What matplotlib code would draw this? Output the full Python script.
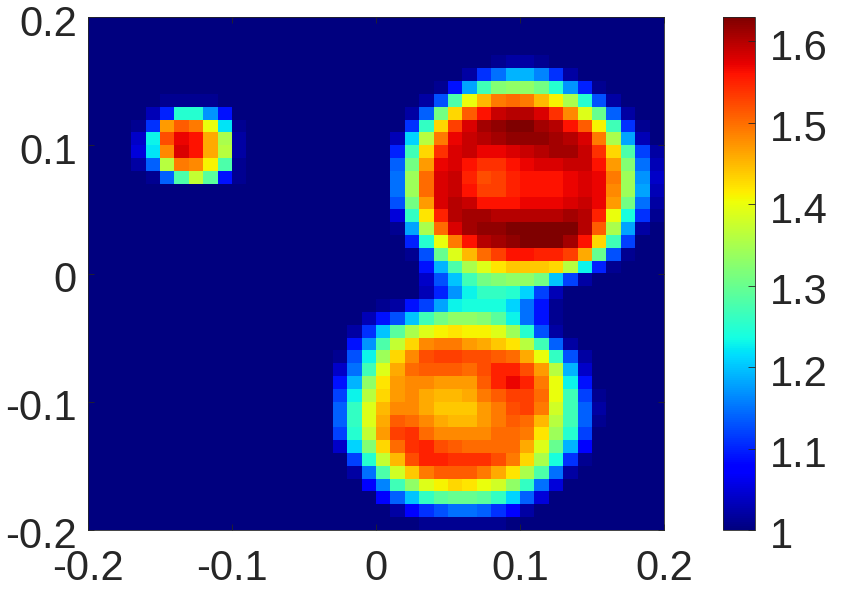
import numpy as np
import matplotlib
matplotlib.use("Agg")
import matplotlib.pyplot as plt
from matplotlib.transforms import ScaledTranslation

plt.rcParams['font.family'] = ['Liberation Sans', 'DejaVu Sans']

n_cells = 40
base_value = 1.0
v_max = 1.63
x_ticks = [-0.2, -0.1, 0, 0.1, 0.2]
y_ticks = [-0.2, -0.1, 0, 0.1, 0.2]
x_tick_labels = ['-0.2', '-0.1', '0', '0.1', '0.2']
y_tick_labels = ['-0.2', '-0.1', '0', '0.1', '0.2']
cbar_ticks = [1, 1.1, 1.2, 1.3, 1.4, 1.5, 1.6]
cbar_labels = ['1', '1.1', '1.2', '1.3', '1.4', '1.5', '1.6']

# (row from top, first column, excess over 1 in hundredths)
small_spot = [
    (6, 5, [1, 1, 1, 1]),
    (7, 4, [3, 10, 25, 25, 17, 9]),
    (8, 3, [1, 11, 47, 51, 49, 40, 22, 1]),
    (9, 3, [4, 23, 52, 57, 56, 46, 35, 2]),
    (10, 3, [5, 22, 48, 58, 56, 46, 36, 2]),
    (11, 3, [2, 14, 36, 49, 48, 41, 28, 1]),
    (12, 4, [1, 14, 28, 37, 29, 9, 1]),
]
upper_spot = [
    (3, 28, [1, 2, 2, 1]),
    (4, 26, [2, 11, 15, 19, 19, 16, 11, 2]),
    (5, 24, [1, 9, 18, 27, 32, 33, 33, 31, 25, 17, 10, 1]),
    (6, 23, [2, 13, 28, 40, 45, 49, 50, 49, 45, 41, 35, 25, 13, 2]),
    (7, 22, [2, 14, 31, 43, 51, 56, 59, 60, 60, 58, 54, 48, 39, 30, 14, 2]),
    (8, 22, [11, 26, 43, 53, 58, 61, 62, 63, 63, 61, 60, 56, 51, 41, 27, 11, 1]),
    (9, 21, [3, 21, 36, 49, 57, 59, 60, 61, 62, 62, 62, 61, 60, 58, 49, 35, 18, 3]),
    (10, 21, [10, 27, 43, 54, 58, 59, 57, 57, 58, 59, 60, 61, 61, 59, 54, 43, 28, 12, 2]),
    (11, 21, [14, 31, 47, 57, 58, 56, 54, 54, 56, 57, 58, 58, 59, 59, 56, 47, 32, 15, 3]),
    (12, 21, [15, 34, 50, 58, 59, 55, 52, 53, 55, 56, 56, 56, 57, 58, 57, 49, 34, 17, 4]),
    (13, 21, [15, 34, 50, 58, 59, 56, 53, 53, 55, 56, 56, 56, 57, 58, 57, 48, 34, 18, 3]),
    (14, 21, [13, 31, 47, 58, 60, 59, 56, 56, 56, 57, 57, 57, 58, 59, 57, 47, 31, 15, 2]),
    (15, 21, [5, 26, 42, 55, 60, 61, 61, 60, 60, 60, 60, 60, 61, 60, 55, 40, 24, 11, 1]),
    (16, 21, [1, 18, 35, 50, 58, 61, 62, 62, 63, 63, 63, 63, 63, 60, 51, 35, 18, 2]),
    (17, 22, [10, 25, 40, 49, 56, 60, 61, 62, 63, 63, 63, 61, 56, 43, 27, 12]),
    (18, 22, [1, 13, 30, 39, 45, 50, 53, 56, 56, 55, 55, 53, 46, 30, 13, 1]),
    (19, 23, [9, 19, 28, 35, 39, 42, 44, 44, 44, 43, 36, 23, 10, 1]),
    (20, 23, [4, 13, 20, 27, 31, 32, 33, 33, 31, 20, 12, 2]),
    (21, 23, [3, 10, 17, 23, 26, 26, 25, 21, 12, 3]),
]
lower_spot = [
    (22, 20, [1, 2, 9, 12, 18, 23, 24, 24, 24, 21, 15, 9, 1]),
    (23, 19, [3, 9, 13, 20, 27, 31, 33, 33, 32, 29, 23, 15, 9, 1]),
    (24, 18, [2, 11, 20, 29, 35, 39, 41, 42, 41, 41, 39, 34, 25, 13, 2]),
    (25, 18, [9, 17, 28, 37, 43, 48, 49, 49, 47, 46, 44, 42, 36, 27, 14, 2]),
    (26, 17, [1, 13, 23, 34, 43, 48, 52, 53, 53, 52, 52, 51, 50, 46, 40, 26, 13, 2]),
    (27, 17, [4, 15, 27, 39, 46, 50, 51, 51, 51, 50, 52, 55, 55, 52, 47, 36, 19, 4]),
    (28, 17, [9, 19, 33, 42, 47, 48, 48, 47, 47, 47, 51, 55, 57, 55, 49, 40, 23, 9]),
    (29, 17, [12, 23, 36, 43, 47, 48, 46, 45, 45, 46, 49, 51, 53, 53, 50, 40, 27, 12, 1]),
    (30, 17, [14, 26, 39, 45, 48, 48, 46, 44, 44, 44, 47, 49, 52, 53, 49, 38, 27, 14, 2]),
    (31, 17, [14, 26, 39, 46, 51, 50, 48, 46, 45, 45, 47, 49, 51, 50, 45, 36, 27, 14, 1]),
    (32, 17, [12, 25, 37, 47, 53, 54, 50, 48, 48, 48, 48, 50, 50, 49, 42, 34, 25, 12]),
    (33, 17, [4, 21, 32, 43, 50, 54, 55, 52, 51, 50, 50, 50, 50, 46, 39, 30, 19, 8]),
    (34, 18, [12, 25, 37, 45, 52, 55, 55, 54, 54, 54, 52, 49, 43, 35, 24, 11, 1]),
    (35, 18, [2, 15, 28, 38, 44, 49, 51, 51, 51, 49, 46, 42, 35, 28, 15, 2]),
    (36, 19, [8, 16, 27, 33, 39, 41, 43, 42, 40, 38, 33, 26, 15, 5]),
    (37, 20, [8, 14, 20, 26, 29, 30, 30, 29, 26, 21, 14, 5]),
    (38, 21, [2, 8, 11, 13, 15, 15, 14, 11, 8, 2]),
    (39, 23, [1, 1, 1, 1, 1, 1]),
]

grid = np.zeros((n_cells, n_cells))
for spot in (small_spot, upper_spot, lower_spot):
    for row, first, values in spot:
        grid[row, first:first + len(values)] = values
field = base_value + grid / 100

W, H = 841, 592
fig = plt.figure(figsize=(W / 100, H / 100), dpi=100, facecolor='white')
def box(x0, y0, x1, y1):
    return [x0 / W, 1 - y1 / H, (x1 - x0) / W, (y1 - y0) / H]

ink = '#262626'
fs = 30
down = ScaledTranslation(0, -3 / 100, fig.dpi_scale_trans)
ax = fig.add_axes(box(88, 17, 664, 530))
im = ax.imshow(field, extent=[-0.2, 0.2, -0.2, 0.2], origin='upper', aspect='auto',
               cmap='jet', vmin=base_value, vmax=v_max, interpolation='nearest')
ax.set_xticks(x_ticks, x_tick_labels)
ax.set_yticks(y_ticks, y_tick_labels)
ax.tick_params(direction='in', length=4, width=0.6, color=ink, labelcolor=ink,
               labelsize=fs, top=True, right=True, pad=8)
ax.tick_params(axis='x', pad=14)
for s in ax.spines.values():
    s.set_linewidth(0.6)
    s.set_color(ink)
for lab in ax.get_yticklabels():
    lab.set_transform(lab.get_transform() + down)

cax = fig.add_axes(box(723, 17, 755, 530))
cb = fig.colorbar(im, cax=cax)
cb.set_ticks(cbar_ticks, labels=cbar_labels)
cax.tick_params(direction='in', length=5, width=0.6, color=ink, labelcolor=ink,
                labelsize=fs, pad=11)
for lab in cax.get_yticklabels():
    lab.set_transform(lab.get_transform() + down)
cb.outline.set_linewidth(0.6)
cb.outline.set_edgecolor(ink)

fig.savefig('out.png', dpi=100)
